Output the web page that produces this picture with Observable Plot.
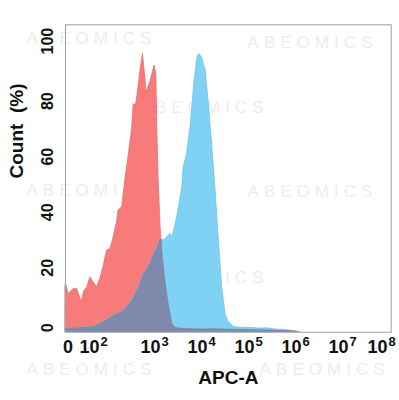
<!DOCTYPE html>
<html>
<head>
<meta charset="utf-8">
<script src="https://cdn.jsdelivr.net/npm/d3@7"></script>
<script src="https://cdn.jsdelivr.net/npm/@observablehq/plot@0.6"></script>
<style>
  body { margin: 0; background: #fff; }
  #chart svg { display: block; }
</style>
</head>
<body>
<div id="chart"></div>
<script>
// x values are in "decades" of APC-A (0 = zero, 2 = 10^2, 3 = 10^3, ...)
const redX = [-0.1, -0.08, 0.06, 0.45, 0.72, 0.98, 1.11, 1.24, 1.51, 1.76, 2.0, 2.06, 2.11, 2.17, 2.22, 2.28, 2.33, 2.39, 2.41, 2.47, 2.52, 2.58, 2.63, 2.66, 2.69, 2.71, 2.77, 2.81, 2.85, 2.87, 2.93, 3.0, 3.04, 3.06, 3.09, 3.13, 3.17, 3.23, 3.30, 3.38, 3.45, 3.6, 3.8, 4.0, 4.3, 4.6, 5.0, 5.5, 6.0, 6.1];
const redY = [17.0, 17.4, 13.8, 15.6, 15.6, 12.0, 11.4, 14.4, 16.2, 19.8, 18.0, 16.2, 19.2, 24.0, 29.4, 30.0, 34.2, 40.2, 43.8, 45.0, 54.6, 64.2, 72.6, 82.2, 81.6, 83.4, 94.2, 100.2, 91.8, 86.4, 90.0, 96.0, 93.0, 73.8, 54.6, 37.8, 28.2, 18.6, 10.2, 3.0, 1.5, 1.2, 1.1, 1.0, 1.1, 0.9, 0.8, 0.6, 0.3, 0];

const blueX = [-0.1, 0.2, 1.24, 2.0, 2.11, 2.21, 2.33, 2.41, 2.50, 2.61, 2.67, 2.74, 2.82, 2.89, 2.93, 2.98, 3.06, 3.13, 3.20, 3.27, 3.34, 3.38, 3.45, 3.51, 3.59, 3.62, 3.69, 3.77, 3.84, 3.91, 3.95, 4.01, 4.09, 4.15, 4.22, 4.30, 4.37, 4.44, 4.51, 4.57, 4.69, 4.83, 5.04, 5.26, 5.40, 5.57, 5.75, 5.89, 6.03];
const blueY = [1.2, 1.3, 1.8, 2.0, 3.0, 4.2, 6.0, 6.7, 7.8, 10.8, 12.9, 16.2, 21.0, 22.9, 24.6, 27.6, 30.6, 33.6, 33.0, 34.2, 35.4, 34.2, 38.8, 43.8, 52.2, 59.4, 64.0, 74.4, 88.2, 98.6, 100.2, 99.0, 94.2, 83.4, 69.1, 51.0, 33.0, 16.2, 6.6, 3.9, 1.8, 1.6, 1.5, 1.3, 1.4, 1.0, 0.8, 0.6, 0];

const xTickValues = [0, 2, 3, 4, 5, 6, 7, 8];
const xTickBases = ["0", "10", "10", "10", "10", "10", "10", "10"];
const xTickExponents = ["", "2", "3", "4", "5", "6", "7", "8"];
const yTickValues = [0, 20, 40, 60, 80, 100];
const xLabel = "APC-A";
const yLabel = "Count\u00a0 (%)";

const watermarkText = "ABEOMICS";
const watermarkX = [1.84, 6.36, 4.04, 1.84, 6.36, 4.04, 1.84, 6.62];
const watermarkY = [105.8, 104.3, 80.9, 51.0, 50.8, 19.7, -13.6, -13.6];

const red = redX.map((x, i) => ({x, y: redY[i]}));
const blue = blueX.map((x, i) => ({x, y: blueY[i]}));
const ticksX = xTickValues.map((v, i) => ({v, base: xTickBases[i], exp: xTickExponents[i]}));
const wm = watermarkX.map((x, i) => ({x, y: watermarkY[i]}));

const font = "'Liberation Sans', Arial, Helvetica, sans-serif";

const chart = Plot.plot({
  width: 399,
  height: 400,
  marginLeft: 65,
  marginRight: 8.3,
  marginTop: 24.3,
  marginBottom: 68.3,
  style: {fontFamily: font, background: "#fff"},
  x: {type: "linear", domain: [-0.1, 0, 2, 3, 7, 8, 8.25], range: [65, 67.5, 93, 154, 342, 381, 390.7], axis: null},
  y: {domain: [0, 110.7], axis: null},
  marks: [
    Plot.text(wm, {x: "x", y: "y", text: () => watermarkText, fill: "#ededed", fontSize: 17}),
    Plot.areaY(red, {x: "x", y: "y", fill: "#f87b7b", stroke: "#e86868", strokeWidth: 0.7}),
    Plot.areaY(blue, {x: "x", y: "y", fill: "#80d2f4", stroke: "#66bfe6", strokeWidth: 0.7}),
    Plot.areaY(red, {x: "x", y: "y", fill: "#7f89ab", stroke: "#737c9c", strokeWidth: 0.6}),
    Plot.frame({stroke: "#a0a0a0", strokeWidth: 1}),
    Plot.text(ticksX, {x: "v", text: d => d.base + (d.exp ? "^" + d.exp : ""), frameAnchor: "bottom", dy: 20.5, fontSize: 18, fontWeight: "bold", fill: "#111"}),
    Plot.text(yTickValues, {y: d => d, text: d => String(d), frameAnchor: "left", dx: -17.5, rotate: -90, fontSize: 16, fontWeight: "bold", fill: "#111"}),
    Plot.text([xLabel], {frameAnchor: "bottom", dy: 51.6, fontSize: 19, fontWeight: "bold", fill: "#111"}),
    Plot.text([yLabel], {frameAnchor: "left", dx: -48.5, rotate: -90, fontSize: 19, fontWeight: "bold", fill: "#111"})
  ]
});

// Clip the overlap layer (red data) to the blue histogram so it shows only the intersection
const ns = "http://www.w3.org/2000/svg";
const areas = chart.querySelectorAll('g[aria-label="area"]');
if (areas.length >= 3) {
  const d = areas[1].querySelector("path").getAttribute("d");
  const defs = document.createElementNS(ns, "defs");
  const clip = document.createElementNS(ns, "clipPath");
  clip.setAttribute("id", "blue-clip");
  const p = document.createElementNS(ns, "path");
  p.setAttribute("d", d);
  clip.appendChild(p);
  defs.appendChild(clip);
  chart.insertBefore(defs, chart.firstChild);
  areas[2].querySelector("path").setAttribute("clip-path", "url(#blue-clip)");
}
const texts = chart.querySelectorAll('g[aria-label="text"]');
if (texts.length) texts[0].setAttribute("letter-spacing", "5");
// Superscript exponents on the x tick labels
if (texts.length > 1) {
  texts[1].querySelectorAll("text").forEach(t => {
    const s = t.textContent;
    const k = s.indexOf("^");
    if (k < 0) return;
    t.textContent = s.slice(0, k);
    const sup = document.createElementNS(ns, "tspan");
    sup.setAttribute("font-size", "13");
    sup.setAttribute("dy", "-7");
    sup.setAttribute("dx", "1");
    sup.textContent = s.slice(k + 1);
    t.appendChild(sup);
  });
}

document.getElementById("chart").appendChild(chart);
</script>
</body>
</html>
